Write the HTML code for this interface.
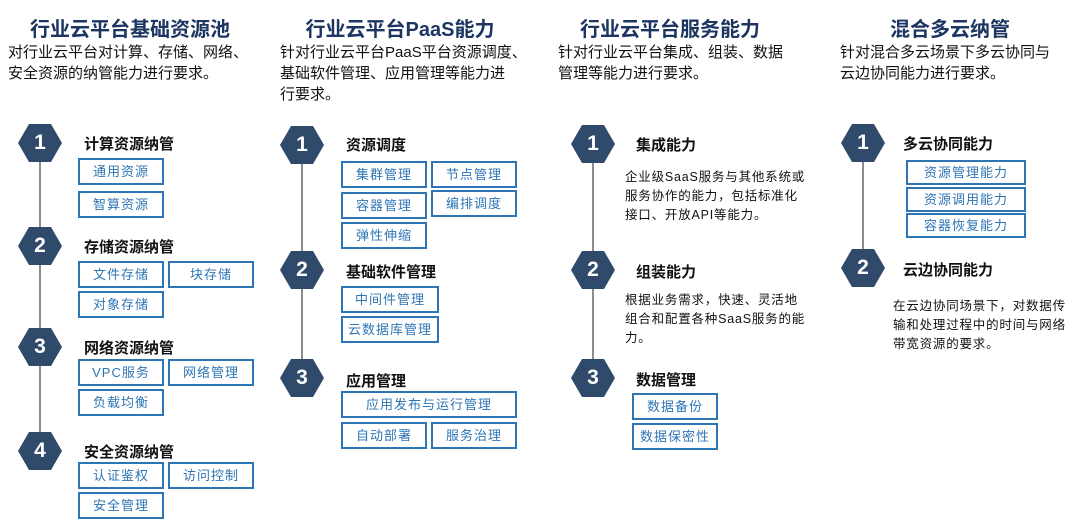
<!DOCTYPE html>
<html><head><meta charset="utf-8"><style>
*{margin:0;padding:0;box-sizing:border-box}
body{width:1080px;height:527px;background:#fff;position:relative;overflow:hidden;font-family:"Liberation Sans","Noto Sans CJK SC",sans-serif}
.a{position:absolute;white-space:nowrap}
.t{font-size:20px;font-weight:bold;color:#1c3561;text-align:center;width:260px}
.d{font-size:15px;color:#111;line-height:21px}
.hx{position:absolute;width:44px;height:38px;background:#2f4a6b;clip-path:polygon(25% 0,75% 0,100% 50%,75% 100%,25% 100%,0 50%);color:#fff;font-weight:bold;font-size:21px;text-align:center;line-height:38px}
.ln{position:absolute;width:2px;background:#8c8c8c}
.l{font-size:15px;font-weight:bold;color:#111}
.b{position:absolute;border:2px solid #2e75b6;color:#2e75b6;font-size:13px;text-align:center;line-height:23px;height:27px;letter-spacing:1px}
.p{font-size:12.5px;color:#111;line-height:19px;letter-spacing:.8px}
</style></head><body>
<div class="a t" style="left:0;top:13px">行业云平台基础资源池</div>
<div class="a d" style="left:8px;top:42px">对行业云平台对计算、存储、网络、<br>安全资源的纳管能力进行要求。</div>
<div class="ln" style="left:39px;top:143px;height:308px"></div>
<div class="hx" style="left:18px;top:124px">1</div>
<div class="hx" style="left:18px;top:227px">2</div>
<div class="hx" style="left:18px;top:328px">3</div>
<div class="hx" style="left:18px;top:432px">4</div>
<div class="a l" style="left:84px;top:133px">计算资源纳管</div>
<div class="b" style="left:78px;top:158px;width:86px">通用资源</div>
<div class="b" style="left:78px;top:191px;width:86px">智算资源</div>
<div class="a l" style="left:84px;top:236px">存储资源纳管</div>
<div class="b" style="left:78px;top:261px;width:86px">文件存储</div>
<div class="b" style="left:168px;top:261px;width:86px">块存储</div>
<div class="b" style="left:78px;top:291px;width:86px">对象存储</div>
<div class="a l" style="left:84px;top:337px">网络资源纳管</div>
<div class="b" style="left:78px;top:359px;width:86px">VPC服务</div>
<div class="b" style="left:168px;top:359px;width:86px">网络管理</div>
<div class="b" style="left:78px;top:389px;width:86px">负载均衡</div>
<div class="a l" style="left:84px;top:441px">安全资源纳管</div>
<div class="b" style="left:78px;top:462px;width:86px">认证鉴权</div>
<div class="b" style="left:168px;top:462px;width:86px">访问控制</div>
<div class="b" style="left:78px;top:492px;width:86px">安全管理</div>

<div class="a t" style="left:270px;top:13px">行业云平台PaaS能力</div>
<div class="a d" style="left:280px;top:42px">针对行业云平台PaaS平台资源调度、<br>基础软件管理、应用管理等能力进<br>行要求。</div>
<div class="ln" style="left:301px;top:145px;height:233px"></div>
<div class="hx" style="left:280px;top:126px">1</div>
<div class="hx" style="left:280px;top:251px">2</div>
<div class="hx" style="left:280px;top:359px">3</div>
<div class="a l" style="left:346px;top:134px">资源调度</div>
<div class="b" style="left:341px;top:161px;width:86px">集群管理</div>
<div class="b" style="left:431px;top:161px;width:86px">节点管理</div>
<div class="b" style="left:341px;top:192px;width:86px">容器管理</div>
<div class="b" style="left:431px;top:190px;width:86px">编排调度</div>
<div class="b" style="left:341px;top:222px;width:86px">弹性伸缩</div>
<div class="a l" style="left:346px;top:261px">基础软件管理</div>
<div class="b" style="left:341px;top:286px;width:98px">中间件管理</div>
<div class="b" style="left:341px;top:316px;width:98px">云数据库管理</div>
<div class="a l" style="left:346px;top:370px">应用管理</div>
<div class="b" style="left:341px;top:391px;width:176px">应用发布与运行管理</div>
<div class="b" style="left:341px;top:422px;width:86px">自动部署</div>
<div class="b" style="left:431px;top:422px;width:86px">服务治理</div>

<div class="a t" style="left:540px;top:13px">行业云平台服务能力</div>
<div class="a d" style="left:558px;top:42px">针对行业云平台集成、组装、数据<br>管理等能力进行要求。</div>
<div class="ln" style="left:592px;top:144px;height:234px"></div>
<div class="hx" style="left:571px;top:125px">1</div>
<div class="hx" style="left:571px;top:251px">2</div>
<div class="hx" style="left:571px;top:359px">3</div>
<div class="a l" style="left:636px;top:134px">集成能力</div>
<div class="a p" style="left:625px;top:168px">企业级SaaS服务与其他系统或<br>服务协作的能力，包括标准化<br>接口、开放API等能力。</div>
<div class="a l" style="left:636px;top:261px">组装能力</div>
<div class="a p" style="left:625px;top:291px">根据业务需求，快速、灵活地<br>组合和配置各种SaaS服务的能<br>力。</div>
<div class="a l" style="left:636px;top:369px">数据管理</div>
<div class="b" style="left:632px;top:393px;width:86px">数据备份</div>
<div class="b" style="left:632px;top:423px;width:86px">数据保密性</div>

<div class="a t" style="left:820px;top:13px">混合多云纳管</div>
<div class="a d" style="left:840px;top:42px">针对混合多云场景下多云协同与<br>云边协同能力进行要求。</div>
<div class="ln" style="left:862px;top:143px;height:125px"></div>
<div class="hx" style="left:841px;top:124px">1</div>
<div class="hx" style="left:841px;top:249px">2</div>
<div class="a l" style="left:903px;top:133px">多云协同能力</div>
<div class="b" style="left:906px;top:160px;width:120px;height:25px;line-height:21px">资源管理能力</div>
<div class="b" style="left:906px;top:187px;width:120px;height:25px;line-height:21px">资源调用能力</div>
<div class="b" style="left:906px;top:213px;width:120px;height:25px;line-height:21px">容器恢复能力</div>
<div class="a l" style="left:903px;top:259px">云边协同能力</div>
<div class="a p" style="left:893px;top:297px">在云边协同场景下，对数据传<br>输和处理过程中的时间与网络<br>带宽资源的要求。</div>
</body></html>
